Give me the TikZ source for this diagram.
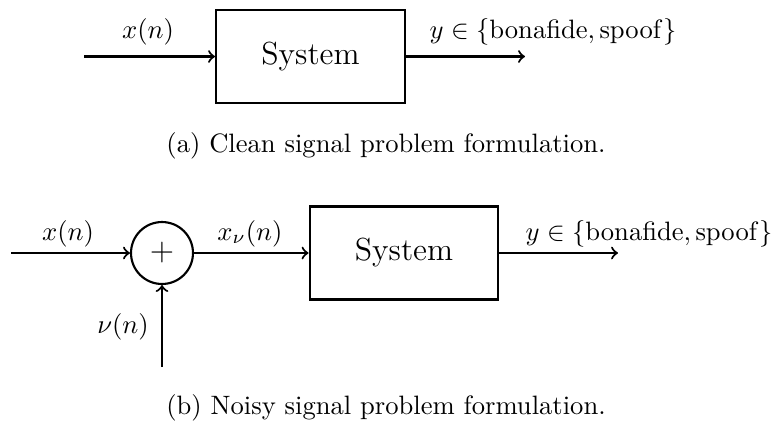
\documentclass[tikz,border=0pt]{standalone}
\begin{document}
\begin{tikzpicture}[x=0.376pt,y=-0.376pt,line width=0.8pt,
  sysbox/.style={draw,minimum width=71pt,minimum height=35pt,inner sep=0pt,font=\large},
  sumc/.style={draw,circle,minimum size=23.3pt,inner sep=0pt,font=\large},
  lbl/.style={anchor=base,inner sep=0pt},
  sig/.style={->}]
\useasboundingbox (0,0) rectangle (773,423);
% (a)
\node[sysbox] (s1) at (310.5,56.5) {System};
\coordinate (in1) at (84,56.5);
\coordinate (out1) at (525,56.5);
\draw[sig] (in1) -- (s1.west);
\draw[sig] (s1.east) -- (out1);
\node[lbl] (lx1) at (148,38) {$x(n)$};
\node[lbl] (ly1) at (553,38) {$y\in\{\mathrm{bonafide},\mathrm{spoof}\}$};
\node[lbl] (capa) at (386,152) {(a) Clean signal problem formulation.};
% (b)
\node[sumc] (sum) at (162,253) {$+$};
\node[sysbox] (s2) at (404,253) {System};
\coordinate (in2) at (11,253);
\coordinate (out2) at (618,253);
\coordinate (nu) at (162,367);
\draw[sig] (in2) -- (sum.west);
\draw[sig] (sum.east) -- (s2.west);
\draw[sig] (s2.east) -- (out2);
\draw[sig] (nu) -- (sum.south);
\node[lbl] (lx2) at (68,240) {$x(n)$};
\node[lbl] (lxn) at (250,240) {$x_\nu(n)$};
\node[lbl] (ly2) at (649,240) {$y\in\{\mathrm{bonafide},\mathrm{spoof}\}$};
\node[lbl] (lnu) at (123,333) {$\nu(n)$};
\node[lbl] (capb) at (386,414) {(b) Noisy signal problem formulation.};
\end{tikzpicture}
\end{document}
